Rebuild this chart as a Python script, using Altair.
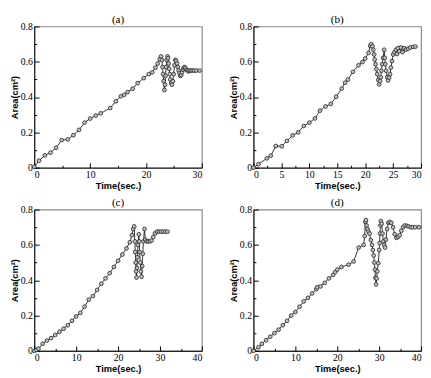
import altair as alt
import pandas as pd

# ---------------- data ----------------
a_time = [0, 0.85, 1.9, 2.9, 3.9, 4.9, 6.0, 7.0, 8.0, 9.0, 10.0, 11.0, 11.9, 13.6, 14.6,
          15.5, 16.1, 16.7, 17.6, 18.5, 19.6, 20.5, 21.1, 21.7, 22.1, 22.45,
          22.7, 22.85, 22.95, 23.05, 23.15, 23.3, 23.4, 23.5, 23.6, 23.7, 23.85, 23.95,
          24.05, 24.15, 24.25, 24.35, 24.5, 24.65, 24.8, 24.95, 25.1, 25.25, 25.4, 25.55,
          25.7, 25.85, 26.0, 26.15, 26.3, 26.45, 26.6, 26.75, 26.9, 27.05, 27.2, 27.4,
          27.6, 27.8, 28.0, 28.3, 28.6, 29.0, 29.6]
a_area = [0.005, 0.04, 0.07, 0.085, 0.113, 0.156, 0.16, 0.184, 0.214, 0.255, 0.278, 0.295,
          0.308, 0.338, 0.376, 0.404, 0.413, 0.428, 0.447, 0.479, 0.507, 0.53, 0.54, 0.567,
          0.59, 0.615,
          0.63, 0.61, 0.57, 0.53, 0.49, 0.44, 0.47, 0.52, 0.57, 0.61, 0.63, 0.62,
          0.59, 0.56, 0.53, 0.50, 0.48, 0.47, 0.49, 0.53, 0.58, 0.61, 0.605, 0.59,
          0.57, 0.55, 0.535, 0.52, 0.525, 0.54, 0.555, 0.565, 0.57, 0.565, 0.555, 0.55,
          0.545, 0.55, 0.55, 0.55, 0.55, 0.55, 0.55]

b_time = [0, 0.9, 2.4, 3.1, 4.0, 5.05, 6.0, 7.0, 8.0, 9.0, 10.0, 11.0, 11.9, 12.9, 13.85,
          14.8, 15.8, 16.4, 16.9, 17.8, 18.8, 19.5, 20.0, 20.6, 20.9, 21.08,
          21.3, 21.45, 21.6, 21.7, 21.85, 22.0, 22.15, 22.35, 22.5, 22.65, 22.8, 22.9,
          23.05, 23.2, 23.4, 23.5, 23.6, 23.75, 23.95, 24.1, 24.3, 24.45, 24.6, 24.8,
          25.0, 25.25, 25.5, 25.7, 25.85, 26.1, 26.4, 26.7, 27.0, 27.3, 27.7, 28.1,
          28.6, 29.0]
b_area = [0, 0.02, 0.053, 0.068, 0.123, 0.121, 0.152, 0.183, 0.2, 0.236, 0.255, 0.279,
          0.323, 0.347, 0.361, 0.402, 0.448, 0.481, 0.499, 0.543, 0.58, 0.598, 0.618,
          0.65, 0.69, 0.70,
          0.687, 0.668, 0.641, 0.613, 0.586, 0.558, 0.53, 0.497, 0.472, 0.49, 0.512,
          0.549, 0.586, 0.622, 0.668, 0.622, 0.586, 0.549, 0.512, 0.494, 0.51, 0.53,
          0.567, 0.604, 0.641, 0.655, 0.668, 0.644, 0.677, 0.659, 0.681, 0.655, 0.677,
          0.668, 0.674, 0.681, 0.684, 0.686]

c_time = [0, 0.5, 1, 2, 3, 4, 5, 6, 7, 8, 9, 10, 11, 12, 13, 14, 15, 16, 17, 18, 19, 20,
          21, 22, 22.8, 23.3, 23.6, 23.85,
          24.0, 24.1, 24.2, 24.3, 24.4, 24.5, 24.6, 24.75, 24.95, 25.05, 25.15, 25.3,
          25.45, 25.6, 25.75, 25.9, 26.05, 26.3, 26.5, 26.8, 27.2, 27.6, 28.0, 28.4,
          28.8, 29.3, 29.8, 30.3, 30.8, 31.3, 31.8]
c_area = [0, 0.005, 0.012, 0.04, 0.058, 0.072, 0.09, 0.108, 0.125, 0.145, 0.17, 0.195,
          0.215, 0.25, 0.29, 0.31, 0.345, 0.38, 0.41, 0.44, 0.475, 0.51, 0.545, 0.58,
          0.615, 0.655, 0.69, 0.705,
          0.62, 0.56, 0.5, 0.45, 0.415, 0.47, 0.53, 0.6, 0.66, 0.62, 0.56, 0.5,
          0.45, 0.42, 0.48, 0.55, 0.62, 0.69, 0.63, 0.62, 0.62, 0.62, 0.625, 0.645,
          0.665, 0.675, 0.675, 0.675, 0.675, 0.675, 0.675]

d_time = [0, 1.2, 2, 3, 4, 5, 6, 7, 8, 9, 10, 11, 12, 13, 14, 15, 15.2, 16, 17, 18, 19,
          19.5, 20, 21, 22.7, 23.9, 25.1, 26.3,
          26.55, 26.7, 26.85, 27.0, 27.2, 27.45, 27.7, 28.0, 28.3, 28.5, 28.7, 28.85,
          29.0, 29.1, 29.25, 29.4, 29.55, 29.8, 30.0, 30.1, 30.2, 30.3, 30.4, 30.6,
          30.8, 31.0, 31.2, 31.4, 31.6, 31.9, 32.2, 32.5, 32.9, 33.3, 33.7, 34.1,
          34.5, 34.9, 35.3, 35.7, 36.1, 36.6, 37.0, 37.5, 38.0, 38.6, 39.5]
d_area = [0, 0.02, 0.04, 0.06, 0.08, 0.1, 0.12, 0.145, 0.17, 0.2, 0.22, 0.25, 0.28, 0.3,
          0.325, 0.35, 0.36, 0.365, 0.385, 0.41, 0.43, 0.445, 0.46, 0.475, 0.488, 0.506,
          0.585, 0.6,
          0.65, 0.73, 0.74, 0.71, 0.69, 0.675, 0.664, 0.627, 0.6, 0.571, 0.54, 0.5,
          0.46, 0.414, 0.376, 0.41, 0.45, 0.497, 0.571, 0.61, 0.664, 0.71, 0.735, 0.72,
          0.664, 0.62, 0.6, 0.585, 0.63, 0.69, 0.725, 0.73, 0.725, 0.7, 0.66, 0.64,
          0.645, 0.655, 0.68, 0.70, 0.71, 0.708, 0.705, 0.70, 0.70, 0.70, 0.70]

panel_titles = ["(a)", "(b)", "(c)", "(d)"]
x_max = [30, 30, 40, 40]
x_major = [[0, 10, 20, 30], [0, 5, 10, 15, 20, 25, 30],
           [0, 10, 20, 30, 40], [0, 10, 20, 30, 40]]
x_minor = [[5, 15, 25], [2.5, 7.5, 12.5, 17.5, 22.5, 27.5],
           [5, 15, 25, 35], [5, 15, 25, 35]]
y_major = [0, 0.2, 0.4, 0.6, 0.8]
y_minor = [0.1, 0.3, 0.5, 0.7]
x_title = "Time(sec.)"
y_title = "Area(cm²)"

LABEL_FONT = "Liberation Serif"
TITLE_FONT = "Liberation Sans"
W, H = 172, 145
MAJ, MIN = 5, 2.5


def panel(t, area, title, xmax, xmaj, xmin):
    df = pd.DataFrame({"t": t, "area": area})
    xs = alt.Scale(domain=[0, xmax], nice=False, zero=False)
    ys = alt.Scale(domain=[0, 0.8], nice=False)

    lab = dict(grid=False, labelFont=LABEL_FONT, labelFontSize=10,
               labelColor="black", titleFont=TITLE_FONT, titleFontSize=9.5,
               titleFontWeight="bold", titleColor="black")

    def tick_axis(orient, values, size):
        # negative tick size (via expression) draws the ticks inward
        return alt.Axis(orient=orient, domain=False, values=values,
                        tickSize={"expr": str(-size)}, labels=False, title=None,
                        grid=False, tickColor="black", tickWidth=1)

    # frame lines + labels + titles (no ticks)
    ax_lab_x = alt.Axis(orient="bottom", domain=True, domainColor="black",
                        domainWidth=1, ticks=False, values=xmaj, labelPadding=2,
                        title=x_title, titlePadding=1, format="d", **lab)
    ax_lab_y = alt.Axis(orient="left", domain=True, domainColor="black",
                        domainWidth=1, ticks=False, values=y_major, labelPadding=2,
                        title=y_title, titlePadding=1,
                        labelExpr="datum.value == 0 ? '0' : format(datum.value, '.1f')",
                        **lab)

    base = alt.Chart(df)
    line = base.mark_line(color="black", strokeWidth=0.8).encode(
        x=alt.X("t:Q", scale=xs, axis=ax_lab_x),
        y=alt.Y("area:Q", scale=ys, axis=ax_lab_y),
    )
    pts = base.mark_point(shape="circle", size=15, fill="#c0c0c0", fillOpacity=1,
                          stroke="#222222", strokeWidth=0.8, opacity=1).encode(
        x=alt.X("t:Q", scale=xs, axis=tick_axis("bottom", xmaj, MAJ)),
        y=alt.Y("area:Q", scale=ys, axis=tick_axis("left", y_major, MAJ)),
    )
    ghost = base.mark_point(opacity=0, size=1).encode(
        x=alt.X("t:Q", scale=xs, axis=tick_axis("bottom", xmin, MIN)),
        y=alt.Y("area:Q", scale=ys, axis=tick_axis("left", y_minor, MIN)),
    )
    return alt.layer(line, pts, ghost).resolve_axis(
        x="independent", y="independent"
    ).properties(
        width=W, height=H,
        title=alt.TitleParams(text=title, font=LABEL_FONT, fontSize=11.5,
                              fontWeight="normal", color="black", anchor="middle",
                              frame="group", offset=-4),
    )


pa = panel(a_time, a_area, panel_titles[0], x_max[0], x_major[0], x_minor[0])
pb = panel(b_time, b_area, panel_titles[1], x_max[1], x_major[1], x_minor[1])
pc = panel(c_time, c_area, panel_titles[2], x_max[2], x_major[2], x_minor[2])
pd_ = panel(d_time, d_area, panel_titles[3], x_max[3], x_major[3], x_minor[3])

chart = alt.vconcat(
    alt.hconcat(pa, pb, spacing=24),
    alt.hconcat(pc, pd_, spacing=24),
    spacing=5,
).properties(padding=0).configure_view(stroke="#8a8a8a", strokeWidth=1.2)

chart.save("out.html", embed_options={"renderer": "svg", "actions": False})
